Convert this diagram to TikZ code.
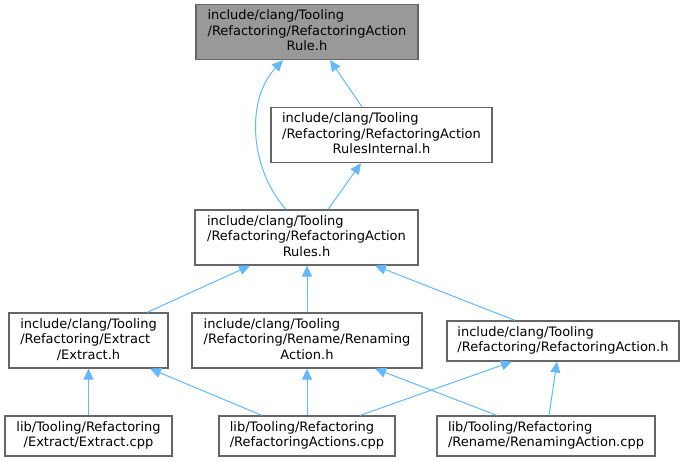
\documentclass[tikz,border=0pt]{standalone}
\usepackage{fontspec}
\setmainfont{DejaVu Sans}
\usetikzlibrary{arrows.meta,calc}
\definecolor{edgeblue}{HTML}{63B8FF}
\definecolor{boxborder}{HTML}{666666}
\definecolor{boxfill}{HTML}{999999}
\newcommand{\lbl}[2]{\begin{tabular}{@{}l@{}}#1\\\multicolumn{1}{@{}c@{}}{#2}\end{tabular}}
\newcommand{\lblL}[1]{\begin{tabular}{@{}l@{}}#1\end{tabular}}
\tikzset{
  filebox/.style={draw=boxborder, line width=1.2pt, fill=white, rectangle, inner sep=0pt,
    font=\fontsize{13}{15.5}\selectfont, text=black},
  edge/.style={draw=edgeblue, line width=1pt, -{Triangle[length=11pt,width=10pt]}},
}
\begin{document}
\begin{tikzpicture}[x=1pt,y=-1pt]
\useasboundingbox (0,0) rectangle (685,461);
\node[filebox, fill=boxfill, minimum width=222pt, minimum height=55pt] (A) at (307,32)
  {\lbl{include/clang/Tooling\\/Refactoring/RefactoringAction}{Rule.h}};
\node[filebox, minimum width=221pt, minimum height=55pt] (B) at (381.5,135)
  {\lbl{include/clang/Tooling\\/Refactoring/RefactoringAction}{RulesInternal.h}};
\node[filebox, minimum width=223pt, minimum height=55pt] (C) at (306.5,237.5)
  {\lbl{include/clang/Tooling\\/Refactoring/RefactoringAction}{Rules.h}};
\node[filebox, minimum width=159pt, minimum height=55pt] (D) at (88.5,340.5)
  {\lbl{include/clang/Tooling\\/Refactoring/Extract}{/Extract.h}};
\node[filebox, minimum width=230pt, minimum height=55pt] (E) at (307,340.5)
  {\lbl{include/clang/Tooling\\/Refactoring/Rename/Renaming}{Action.h}};
\node[filebox, minimum width=232pt, minimum height=40pt] (F) at (563,341)
  {\lblL{include/clang/Tooling\\/Refactoring/RefactoringAction.h}};
\node[filebox, minimum width=167pt, minimum height=40pt] (G) at (88.5,436)
  {\lbl{lib/Tooling/Refactoring}{/Extract/Extract.cpp}};
\node[filebox, minimum width=176pt, minimum height=40pt] (H) at (307,436)
  {\lbl{lib/Tooling/Refactoring}{/RefactoringActions.cpp}};
\node[filebox, minimum width=218pt, minimum height=40pt] (I) at (546,436)
  {\lbl{lib/Tooling/Refactoring}{/Rename/RenamingAction.cpp}};
% edges (tail at includer, head at included file)
\draw[edge] ([xshift=-20.5pt]C.north) .. controls +(-36,-40) and +(-38,40) .. ([xshift=-24pt]A.south);
\draw[edge] ([xshift=-19.5pt]B.north) -- ([xshift=23pt]A.south);
\draw[edge] ([xshift=21.5pt]C.north) -- ([xshift=-20.5pt]B.south);
\draw[edge] ([xshift=58.5pt]D.north) -- ([xshift=-56.5pt]C.south);
\draw[edge] (E.north) -- (E.north |- C.south);
\draw[edge] ([xshift=-48pt]F.north) -- ([xshift=68.5pt]C.south);
\draw[edge] (G.north) -- (G.north |- D.south);
\draw[edge] ([xshift=-45pt]H.north) -- ([xshift=61.5pt]D.south);
\draw[edge] (H.north) -- (H.north |- E.south);
\draw[edge] ([xshift=-49pt]I.north) -- ([xshift=68pt]E.south);
\draw[edge] ([xshift=53pt]H.north) -- ([xshift=-51pt]F.south);
\draw[edge] ([xshift=3pt]I.north) -- ([xshift=-6pt]F.south);
\end{tikzpicture}
\end{document}
